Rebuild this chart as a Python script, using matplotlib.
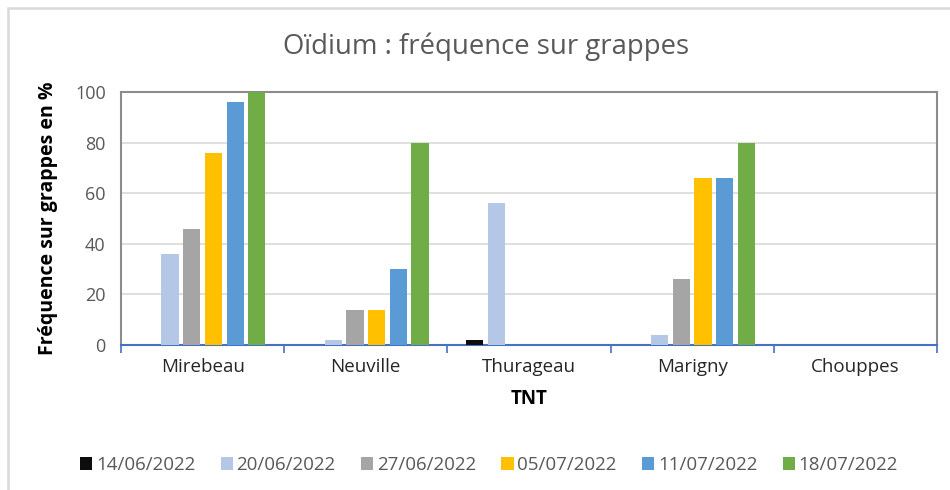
import matplotlib
matplotlib.use("Agg")
import matplotlib.pyplot as plt
import numpy as np
from matplotlib.patches import Rectangle

categories = ["Mirebeau", "Neuville", "Thurageau", "Marigny", "Chouppes"]
dates = ["14/06/2022", "20/06/2022", "27/06/2022", "05/07/2022", "11/07/2022", "18/07/2022"]
s_1406 = [0, 0, 2, 0, 0]
s_2006 = [36, 2, 56, 4, 0]
s_2706 = [46, 14, 0, 26, 0]
s_0507 = [76, 14, 0, 66, 0]
s_1107 = [96, 30, 0, 66, 0]
s_1807 = [100, 80, 0, 80, 0]
series = [s_1406, s_2006, s_2706, s_0507, s_1107, s_1807]
colors = ["#0D0D0D", "#B4C7E7", "#A5A5A5", "#FFC000", "#5B9BD5", "#70AD47"]
yticks = [0, 20, 40, 60, 80, 100]

plt.rcParams['font.family'] = ['Open Sans', 'DejaVu Sans']

fig = plt.figure(figsize=(9.5, 4.9), dpi=100)
W, H = 950, 490
ax = fig.add_axes([121 / W, 1 - 345 / H, (937 - 121) / W, (345 - 92) / H])

# outer frame
fig.patches.append(Rectangle((8 / W, -0.1), 1.2, 1 - 8 / H + 0.1, transform=fig.transFigure,
                             fill=False, edgecolor="#D9D9D9", linewidth=1.8))

x = np.arange(len(categories))
step = 0.133
bw = 0.105
for i, (vals, c, lab) in enumerate(zip(series, colors, dates)):
    ax.bar(x + (i - 2.5) * step, vals, width=bw, color=c, label=lab, zorder=3, edgecolor='none')

ax.set_xlim(-0.5, len(categories) - 0.5)
ax.set_ylim(0, 100)
ax.set_yticks(yticks)
ax.yaxis.grid(True, color="#D9D9D9", linewidth=1.2, zorder=0)
ax.tick_params(axis='y', length=0, labelsize=13, labelcolor="#595959", pad=11)
ax.set_xticks(x)
ax.set_xticklabels(categories, fontsize=13.5, color="#262626")
ax.tick_params(axis='x', which='major', length=0, pad=9)
ax.set_xticks(np.arange(len(categories) + 1) - 0.5, minor=True)
ax.tick_params(axis='x', which='minor', length=6, color="#4472C4", width=1.2)

for s in ["left", "top", "right"]:
    ax.spines[s].set_color("#8C8C8C")
    ax.spines[s].set_linewidth(1.5)
ax.spines["bottom"].set_color("#4472C4")
ax.spines["bottom"].set_linewidth(1.5)

ax.set_ylabel("Fréquence sur grappes en %", fontsize=14, fontweight='bold', color="#000000", labelpad=12)
ax.set_xlabel("TNT", fontsize=13.5, fontweight='bold', color="#000000", labelpad=10)

fig.text(486 / W, 1 - 47 / H, "Oïdium : fréquence sur grappes", ha='center', va='center',
         fontsize=19.8, color="#595959")

fig.legend(loc='center', bbox_to_anchor=(489 / W, 1 - 465 / H), ncol=6, frameon=False,
           fontsize=13.5, handlelength=0.65, handleheight=0.65, handletextpad=0.2,
           columnspacing=1.35, labelcolor="#595959")

fig.savefig("out.png", dpi=100)
